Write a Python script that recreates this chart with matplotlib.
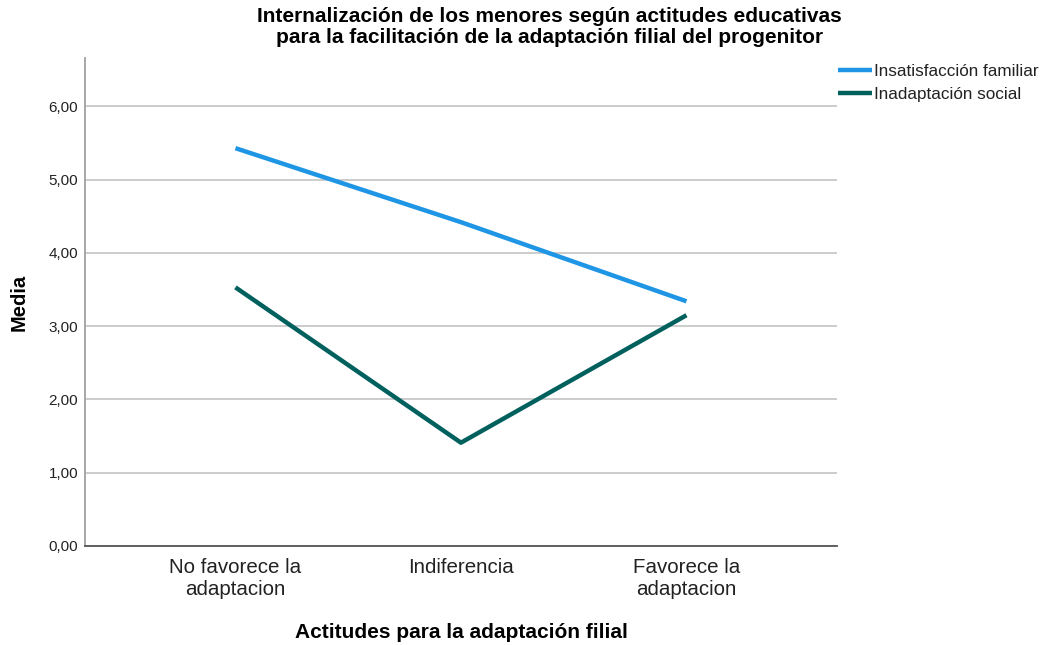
import matplotlib
matplotlib.use("Agg")
import matplotlib.pyplot as plt
import numpy as np

categories = ["No favorece la\nadaptacion", "Indiferencia", "Favorece la\nadaptacion"]
insatisfaccion = [5.43, 4.42, 3.34]
inadaptacion = [3.53, 1.41, 3.15]
yticks = [0, 1, 2, 3, 4, 5, 6]
ytick_labels = ["0,00", "1,00", "2,00", "3,00", "4,00", "5,00", "6,00"]

plt.rcParams["font.family"] = ["Liberation Sans", "DejaVu Sans"]

fig = plt.figure(figsize=(10.5, 6.45), dpi=100)
ax = fig.add_axes([0.081, 0.1535, 0.716, 0.7565])

x = np.arange(len(categories))
ax.plot(x, insatisfaccion, color="#1f95e6", lw=3.2, label="Insatisfacción familiar",
        solid_capstyle="butt", zorder=3)
ax.plot(x, inadaptacion, color="#00605d", lw=3.2, label="Inadaptación social",
        solid_capstyle="butt", zorder=3)

ax.set_xlim(-0.667, 2.667)
ax.set_ylim(0, 6.66)
ax.set_yticks(yticks)
ax.set_yticklabels(ytick_labels, fontsize=11, color="#222222")
ax.set_xticks(x)
ax.set_xticklabels(categories, fontsize=14.8, color="#222222", linespacing=1.2)
ax.tick_params(axis="y", length=0, pad=5)
ax.tick_params(axis="x", length=0, pad=9)

ax.grid(axis="y", color="#c8c8c8", lw=1.3, zorder=0)
for s in ["top", "right"]:
    ax.spines[s].set_visible(False)
ax.spines["left"].set_color("#a0a0a0")
ax.spines["left"].set_linewidth(1.3)
ax.spines["bottom"].set_color("#555555")
ax.spines["bottom"].set_linewidth(1.3)

ax.set_ylabel("Media", fontsize=14.5, fontweight="bold", labelpad=14)
ax.set_xlabel("Actitudes para la adaptación filial", fontsize=15, fontweight="bold", labelpad=17)

fig.text(0.523, 0.958, "Internalización de los menores según actitudes educativas\n"
         "para la facilitación de la adaptación filial del progenitor",
         ha="center", va="center", fontsize=15, fontweight="bold", linespacing=1.12)

leg = ax.legend(loc="upper left", bbox_to_anchor=(1.001, 0.988), frameon=False,
                fontsize=12.3, handlelength=2.0, handletextpad=0.15, labelspacing=0.45,
                borderaxespad=0, borderpad=0)
for t in leg.get_texts():
    t.set_color("#222222")

fig.savefig("out.png", dpi=100)
